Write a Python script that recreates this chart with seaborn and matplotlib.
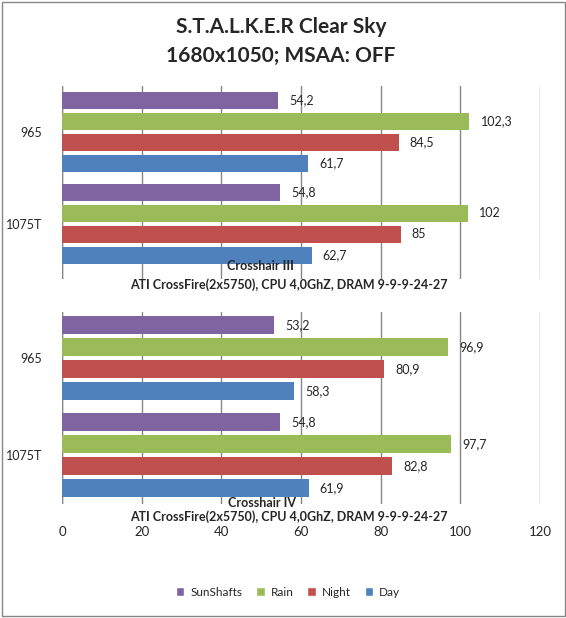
import numpy as np
import pandas as pd
import seaborn as sns
import matplotlib.pyplot as plt
from matplotlib.patches import Patch, Rectangle

# data
cpus = ['965', '1075T']
series = ['SunShafts', 'Rain', 'Night', 'Day']
colors = ['#8064A2', '#9BBB59', '#C0504D', '#4F81BD']

ch3_sunshafts = [54.2, 54.8]
ch3_rain = [102.3, 102]
ch3_night = [84.5, 85]
ch3_day = [61.7, 62.7]

ch4_sunshafts = [53.2, 54.8]
ch4_rain = [96.9, 97.7]
ch4_night = [80.9, 82.8]
ch4_day = [58.3, 61.9]

x_ticks = [0, 20, 40, 60, 80, 100, 120]
board_top = 'Crosshair III'
board_bottom = 'Crosshair IV'
config = 'ATI CrossFire(2x5750), CPU 4,0GhZ, DRAM 9-9-9-24-27'


def make_df(vals):
    rows = []
    for s, v in zip(series, vals):
        for c, x in zip(cpus, v):
            rows.append({'cpu': c, 'series': s, 'fps': x})
    return pd.DataFrame(rows)


df_top = make_df([ch3_sunshafts, ch3_rain, ch3_night, ch3_day])
df_bot = make_df([ch4_sunshafts, ch4_rain, ch4_night, ch4_day])

sns.set_style('white')
plt.rcParams['font.family'] = ['Lato', 'DejaVu Sans']

W, H = 566, 618
fig = plt.figure(figsize=(W / 100, H / 100), dpi=100)
grid_col = '#868686'


def fmt(v):
    return f'{v:g}'.replace('.', ',')


def panel(df, top, bottom, ylim, show_x):
    ax = fig.add_axes([62 / W, 1 - bottom / H, 478 / W, (bottom - top) / H])
    sns.barplot(data=df, y='cpu', x='fps', hue='series', orient='h',
                order=cpus, hue_order=series, palette=colors,
                width=0.91, gap=0.19, saturation=1, legend=False,
                linewidth=0, ax=ax)
    for cont in ax.containers:
        ax.bar_label(cont, labels=[fmt(b.get_width()) for b in cont],
                     padding=8, fontsize=9)
    ax.set_xlim(0, 120)
    ax.set_ylim(*ylim)
    ax.set_xticks(x_ticks)
    ax.xaxis.grid(True, color=grid_col, linewidth=1)
    ax.set_axisbelow(True)
    for s in ax.spines.values():
        s.set_visible(False)
    ax.axvline(0, color=grid_col, linewidth=1, zorder=0)
    ax.set_xlabel('')
    ax.set_ylabel('')
    ax.tick_params(axis='y', length=0, pad=14, labelsize=9)
    ax.tick_params(axis='x', length=0, pad=16, labelsize=9.5)
    if not show_x:
        ax.set_xticklabels([])
    return ax


ax1 = panel(df_top, 86, 279, (1.6, -0.495), False)
ax2 = panel(df_bot, 312, 504, (1.51, -0.48), True)

# axis titles (overlapping the plot like in the original)
fig.text(260 / W, 1 - 266 / H, board_top, ha='center', va='center',
         fontsize=9, fontweight='bold')
fig.text(289 / W, 1 - 285 / H, config, ha='center', va='center',
         fontsize=9, fontweight='bold')
fig.text(262 / W, 1 - 503 / H, board_bottom, ha='center', va='center',
         fontsize=9, fontweight='bold')
fig.text(289 / W, 1 - 517 / H, config, ha='center', va='center',
         fontsize=9, fontweight='bold')

fig.text(281 / W, 1 - 27 / H, 'S.T.A.L.K.E.R Clear Sky', ha='center',
         va='center', fontsize=15, fontweight='bold')
fig.text(281 / W, 1 - 56 / H, '1680x1050; MSAA: OFF', ha='center',
         va='center', fontsize=15, fontweight='bold')

handles = [Patch(facecolor=c, label=s) for s, c in zip(series, colors)]
fig.legend(handles=handles, loc='center', ncol=4, frameon=False,
           bbox_to_anchor=(288 / W, 1 - 592 / H), fontsize=8.5,
           handlelength=0.7, handleheight=0.7, handletextpad=0.5,
           columnspacing=1.2)

fig.patches.append(Rectangle((2 / W, 2 / H), 563 / W, 614 / H,
                             transform=fig.transFigure, fill=False,
                             edgecolor=grid_col, linewidth=1))

fig.savefig('out.png', dpi=100)
